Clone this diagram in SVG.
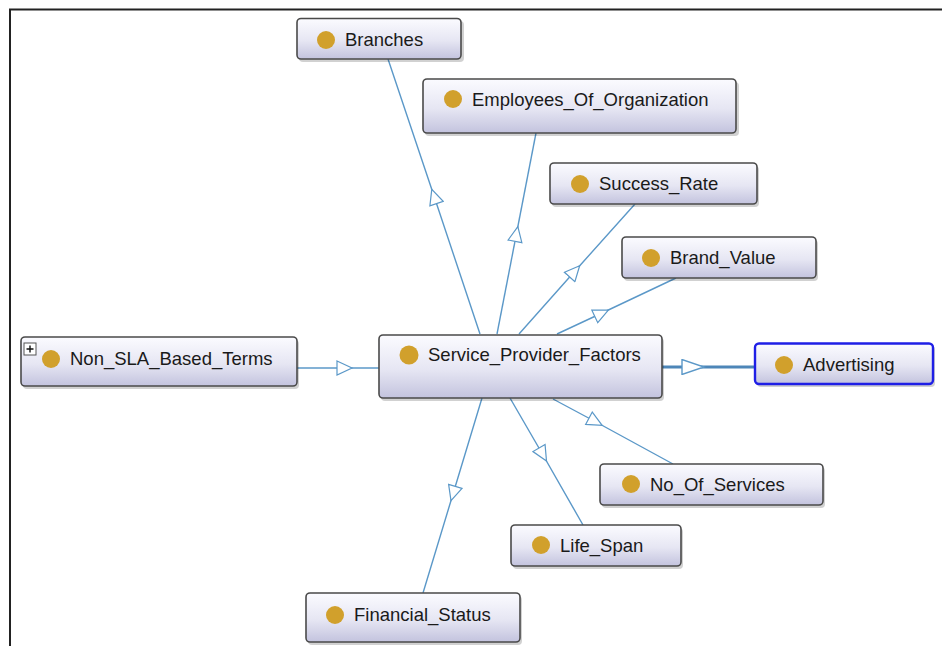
<svg xmlns="http://www.w3.org/2000/svg" width="942" height="646" viewBox="0 0 942 646">
<defs>
<linearGradient id="g" x1="0" y1="0" x2="0" y2="1">
<stop offset="0" stop-color="#fbfbff"/>
<stop offset="0.55" stop-color="#e6e6f3"/>
<stop offset="1" stop-color="#c3c3de"/>
</linearGradient>
<marker id="tri" viewBox="-1 -8 18 16" markerWidth="18" markerHeight="16" refX="8" refY="0" orient="auto" markerUnits="userSpaceOnUse">
<path d="M0,-7 L15,0 L0,7 Z" fill="#ffffff" stroke="#5b98c8" stroke-width="1.2"/>
</marker>
<marker id="triB" viewBox="-1 -8 26 16" markerWidth="26" markerHeight="16" refX="11" refY="0" orient="auto" markerUnits="userSpaceOnUse">
<path d="M0,-7.5 L22,0 L0,7.5 Z" fill="#ffffff" stroke="#5b98c8" stroke-width="1.4"/>
</marker>
</defs>
<style>
.box{fill:url(#g);stroke:#4a4a4a;stroke-width:1.6}
.sh{fill:#000;opacity:0.18}
.dot{fill:#d1a02c}
.t{font-family:"Liberation Sans",Arial,sans-serif;font-size:18.5px;fill:#1a1a1a}
.e{fill:none;stroke:#5b98c8;stroke-width:1.4;marker-mid:url(#tri)}
.frame{stroke:#222;stroke-width:2;fill:none}
</style>
<rect x="0" y="0" width="942" height="646" fill="#ffffff"/>
<path class="frame" d="M10,646 L10,9.5 L942,9.5"/>

<g id="connectors">
<path class="e" d="M480,334 L434,196 L388,59"/>
<path class="e" d="M497,334 L516.5,233.5 L536,133"/>
<path class="e" d="M519,334 L575,271 L635,204"/>
<path class="e" d="M557,334 L602,313 L676,278"/>
<path class="e" d="M297,368 L345,368 L379,368"/>
<path d="M662,367 L693,367 L755,367" fill="none" stroke="#4d86b8" stroke-width="3.2" marker-mid="url(#triB)"/>
<path class="e" d="M553,399 L596,422 L673,464"/>
<path class="e" d="M510,398 L543,455 L583,525"/>
<path class="e" d="M482,398 L453,494 L423,593"/>
</g>

<g id="branches">
<rect class="sh" x="299" y="21" width="165" height="41" rx="4"/>
<rect class="box" x="297" y="18.5" width="164" height="40.5" rx="4"/>
<circle class="dot" cx="326" cy="40" r="9"/>
<text class="t" x="345" y="46">Branches</text>
</g>

<g id="employees">
<rect class="sh" x="425" y="82" width="314" height="54" rx="4"/>
<rect class="box" x="423" y="79" width="313" height="54" rx="4"/>
<circle class="dot" cx="453" cy="99" r="9"/>
<text class="t" x="472" y="106">Employees_Of_Organization</text>
</g>

<g id="success_rate">
<rect class="sh" x="552" y="166" width="207" height="41" rx="4"/>
<rect class="box" x="550" y="163" width="207" height="41" rx="4"/>
<circle class="dot" cx="580" cy="184" r="9"/>
<text class="t" x="599" y="190">Success_Rate</text>
</g>

<g id="brand_value">
<rect class="sh" x="624" y="240" width="194" height="41" rx="4"/>
<rect class="box" x="622" y="237" width="194" height="41" rx="4"/>
<circle class="dot" cx="651" cy="258" r="9"/>
<text class="t" x="670" y="264">Brand_Value</text>
</g>

<g id="non_sla_based_terms">
<rect class="sh" x="23" y="340" width="276" height="49" rx="4"/>
<rect class="box" x="21" y="337" width="276" height="49" rx="4"/>
<rect x="24" y="343" width="12" height="12" fill="#ffffff" stroke="#555" stroke-width="1"/>
<path d="M26.5,349 L33.5,349 M30,345.5 L30,352.5" stroke="#111" stroke-width="1.4"/>
<circle class="dot" cx="51" cy="359" r="9"/>
<text class="t" x="70" y="365">Non_SLA_Based_Terms</text>
</g>

<g id="service_provider_factors">
<rect class="sh" x="381" y="338" width="283" height="63" rx="4"/>
<rect class="box" x="379" y="335" width="283" height="63" rx="4"/>
<circle class="dot" cx="409" cy="355" r="9.5"/>
<text class="t" x="428" y="361">Service_Provider_Factors</text>
</g>

<g id="advertising">
<rect class="sh" x="757" y="346" width="178" height="41" rx="4"/>
<rect x="755" y="343.5" width="178" height="40.5" rx="4" fill="url(#g)" stroke="#1f1fe6" stroke-width="2.4"/>
<circle class="dot" cx="784" cy="365" r="9"/>
<text class="t" x="803" y="371">Advertising</text>
</g>

<g id="no_of_services">
<rect class="sh" x="602" y="467" width="223" height="41" rx="4"/>
<rect class="box" x="600" y="464" width="223" height="41" rx="4"/>
<circle class="dot" cx="631" cy="484" r="9"/>
<text class="t" x="650" y="491">No_Of_Services</text>
</g>

<g id="life_span">
<rect class="sh" x="513" y="528" width="170" height="41" rx="4"/>
<rect class="box" x="511" y="525" width="170" height="41" rx="4"/>
<circle class="dot" cx="541" cy="545" r="9"/>
<text class="t" x="560" y="552">Life_Span</text>
</g>

<g id="financial_status">
<rect class="sh" x="308" y="596" width="214" height="49" rx="4"/>
<rect class="box" x="306" y="593" width="214" height="49" rx="4"/>
<circle class="dot" cx="335" cy="615" r="9"/>
<text class="t" x="354" y="621">Financial_Status</text>
</g>
</svg>
